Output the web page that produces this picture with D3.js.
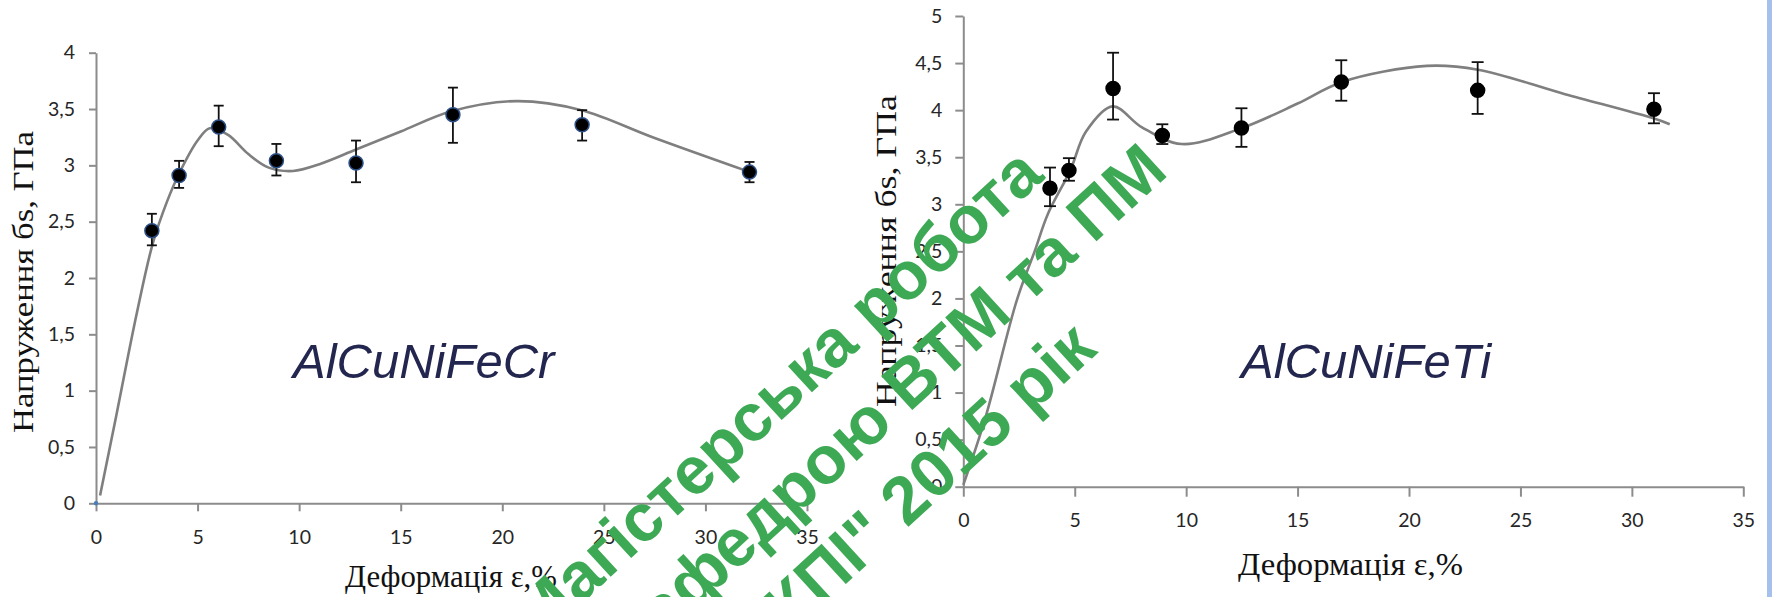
<!DOCTYPE html>
<html>
<head>
<meta charset="utf-8">
<script src="https://cdn.jsdelivr.net/npm/d3@7"></script>
<style>
body{margin:0;background:#fff;overflow:hidden}
</style>
</head>
<body>
<div id="chart"></div>
<script>
// ---- data ----
const xTicks = [0, 5, 10, 15, 20, 25, 30, 35];
const leftYTicks = [0, 0.5, 1, 1.5, 2, 2.5, 3, 3.5, 4];
const rightYTicks = [0, 0.5, 1, 1.5, 2, 2.5, 3, 3.5, 4, 4.5, 5];

// AlCuNiFeCr
const crX  = [2.75, 4.09, 6.04, 8.88, 12.8, 17.57, 23.93, 32.17];
const crY  = [2.42, 2.91, 3.34, 3.04, 3.02, 3.45, 3.36, 2.94];
const crHi = [2.57, 3.04, 3.53, 3.19, 3.22, 3.69, 3.49, 3.03];
const crLo = [2.29, 2.80, 3.17, 2.91, 2.85, 3.20, 3.22, 2.85];
const crFitX = [0.2, 1.0, 2.0, 2.8, 3.5, 4.1, 5.0, 5.6, 6.5, 7.5, 8.5, 9.7, 11, 12.8, 15, 17.5, 20.7, 23.9, 27.4, 32.2];
const crFitY = [0.07, 0.78, 1.68, 2.31, 2.68, 2.93, 3.22, 3.33, 3.27, 3.1, 2.98, 2.95, 3.01, 3.14, 3.3, 3.48, 3.57, 3.49, 3.25, 2.94];

// AlCuNiFeTi
const tiX  = [3.89, 4.74, 6.72, 8.93, 12.48, 16.96, 23.08, 30.99];
const tiY  = [3.17, 3.36, 4.23, 3.73, 3.81, 4.30, 4.21, 4.01];
const tiHi = [3.39, 3.49, 4.61, 3.85, 4.02, 4.53, 4.51, 4.18];
const tiLo = [2.98, 3.25, 3.90, 3.64, 3.61, 4.10, 3.96, 3.86];
const tiFitX = [0, 1.0, 2.4, 3.2, 3.8, 4.8, 5.5, 6.7, 8.0, 9.8, 12.5, 15, 17, 20.8, 23.1, 27, 31, 31.7];
const tiFitY = [0.02, 0.74, 1.98, 2.5, 2.9, 3.36, 3.77, 4.04, 3.82, 3.64, 3.81, 4.07, 4.30, 4.47, 4.43, 4.17, 3.91, 3.85];

const xTitle = "Деформація ε,%";
const yTitle = "Напруження бs, ГПа";
const watermark = ["Магістерська робота", "кафедрою ВТМ та ПМ", "НТУУ \"КПІ\" 2015 рік"];

const W = 1772, H = 597;
const svg = d3.select("#chart").append("svg")
  .attr("width", W).attr("height", H)
  .style("display", "block");

svg.append("rect").attr("width", W).attr("height", H).attr("fill", "#fff");

const fmt = d => String(d).replace(".", ",");

function panel(o) {
  const x = d3.scaleLinear().domain([0, 35]).range(o.xr);
  const y = d3.scaleLinear().domain(o.yd).range(o.yr);
  const g = svg.append("g");

  const ax = g.append("g")
    .attr("transform", "translate(0," + o.yr[0] + ")")
    .call(d3.axisBottom(x).tickValues(xTicks).tickSize(o.xt).tickSizeOuter(0).tickPadding(o.xpad));
  const ay = g.append("g")
    .attr("transform", "translate(" + o.xr[0] + ",0)")
    .call(d3.axisLeft(y).tickValues(o.yTicks).tickFormat(fmt).tickSize(o.yt).tickSizeOuter(0).tickPadding(o.ypad));
  [ax, ay].forEach(a => {
    a.selectAll("path,line").attr("stroke", "#8c8c8c").attr("stroke-width", 2);
    a.selectAll("text").attr("fill", "#262626")
      .style("font-family", "Lato, 'Open Sans', sans-serif").style("font-size", "19.5px");
  });

  // fitted curve
  const line = d3.line().x(d => x(d[0])).y(d => y(d[1])).curve(d3.curveCatmullRom.alpha(0.5));
  g.append("path")
    .datum(d3.zip(o.fitX, o.fitY))
    .attr("d", line)
    .attr("fill", "none").attr("stroke", "#7f7f7f").attr("stroke-width", 2.6);

  // error bars
  const pts = o.px.map((v, i) => ({x: v, y: o.py[i], hi: o.hi[i], lo: o.lo[i]}));
  const eb = g.append("g").attr("stroke", "#111").attr("stroke-width", 1.8);
  eb.selectAll(".v").data(pts).join("line")
    .attr("x1", d => x(d.x)).attr("x2", d => x(d.x))
    .attr("y1", d => y(d.hi)).attr("y2", d => y(d.lo));
  eb.selectAll(".t").data(pts).join("line")
    .attr("x1", d => x(d.x) - o.cap).attr("x2", d => x(d.x) + o.cap)
    .attr("y1", d => y(d.hi)).attr("y2", d => y(d.hi));
  eb.selectAll(".b").data(pts).join("line")
    .attr("x1", d => x(d.x) - o.cap).attr("x2", d => x(d.x) + o.cap)
    .attr("y1", d => y(d.lo)).attr("y2", d => y(d.lo));

  g.selectAll("circle.m").data(pts).join("circle")
    .attr("cx", d => x(d.x)).attr("cy", d => y(d.y))
    .attr("r", o.r).attr("fill", "#000")
    .attr("stroke", o.mstroke).attr("stroke-width", 1.5);

  // axis titles
  g.append("text")
    .attr("x", o.xtx).attr("y", o.xty)
    .attr("textLength", o.xtl).attr("lengthAdjust", "spacingAndGlyphs")
    .style("font-family", "'Liberation Serif', 'Times New Roman', serif")
    .style("font-size", "31px").attr("fill", "#111")
    .text(xTitle);
  g.append("text")
    .attr("transform", "translate(" + o.ytx + "," + o.yty + ") rotate(-90)")
    .attr("textLength", o.ytl).attr("lengthAdjust", "spacingAndGlyphs")
    .style("font-family", "'Liberation Serif', 'Times New Roman', serif")
    .style("font-size", "30px").attr("fill", "#111")
    .text(yTitle);

  // alloy label
  g.append("text")
    .attr("x", o.lx).attr("y", o.ly)
    .style("font-family", "'Liberation Sans', Arial, sans-serif")
    .style("font-style", "italic").style("font-size", "49px")
    .attr("fill", "#23264f")
    .text(o.label);
  return {x, y};
}

const L = panel({
  xr: [96, 807], yr: [503.3, 52.7], yd: [0, 4], yTicks: leftYTicks,
  xt: 8, xpad: 19, yt: 7, ypad: 14,
  fitX: crFitX, fitY: crFitY, px: crX, py: crY, hi: crHi, lo: crLo,
  cap: 5, r: 7, mstroke: "#2c4f86",
  xtx: 345, xty: 587, xtl: 212,
  ytx: 33, yty: 433, ytl: 302,
  lx: 293, ly: 378, label: "AlCuNiFeCr"
});
// origin marker
svg.append("circle").attr("cx", L.x(0)).attr("cy", L.y(0)).attr("r", 2.2).attr("fill", "#4a7ebb");

panel({
  xr: [963.3, 1743.3], yr: [486.7, 16], yd: [0, 5], yTicks: rightYTicks,
  xt: 10, xpad: 16, yt: 8, ypad: 13,
  fitX: tiFitX, fitY: tiFitY, px: tiX, py: tiY, hi: tiHi, lo: tiLo,
  cap: 6, r: 7, mstroke: "#000",
  xtx: 1238, xty: 575, xtl: 225,
  ytx: 896, yty: 407, ytl: 312,
  lx: 1241, ly: 378, label: "AlCuNiFeTi"
});

// right edge band
svg.append("rect").attr("x", 1767).attr("y", 0).attr("width", 5).attr("height", H).attr("fill", "#a6c0ec");

// watermark, anchored at the end of each line
const wmEnds = [[1046, 178], [1170, 174], [1099, 352]];
const wm = svg.append("g");
watermark.forEach((t, i) => {
  wm.append("text")
    .attr("transform", "translate(" + wmEnds[i][0] + "," + wmEnds[i][1] + ") rotate(-42.5)")
    .attr("text-anchor", "end")
    .style("font-family", "'Liberation Sans', Arial, sans-serif")
    .style("font-weight", "bold").style("font-size", "67px")
    .attr("fill", "#3da955")
    .text(t);
});
</script>
</body>
</html>
